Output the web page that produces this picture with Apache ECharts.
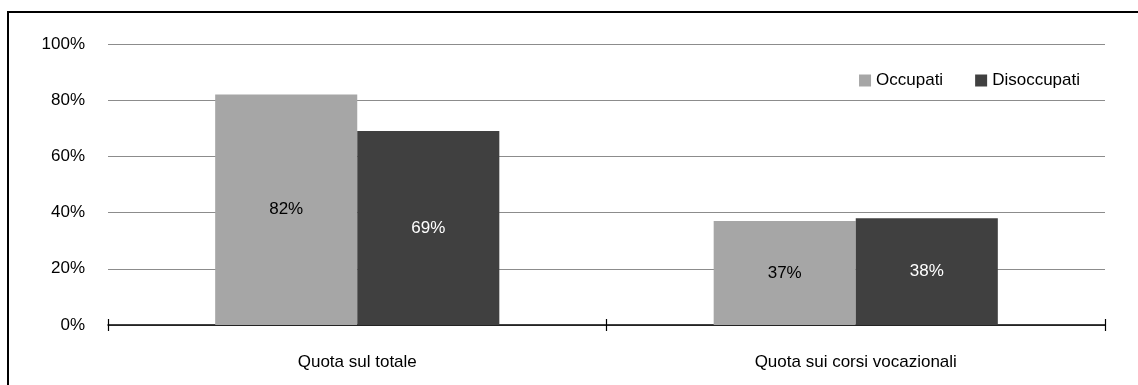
<!DOCTYPE html>
<html>
<head>
<meta charset="utf-8">
<script src="https://cdn.jsdelivr.net/npm/echarts@6/dist/echarts.min.js"></script>
<style>
  html, body { margin: 0; padding: 0; background: #fff; }
  #chart { width: 1138px; height: 385px; }
</style>
</head>
<body>
<div id="chart"></div>
<script>
// Categories and series values (percent)
const categories = ['Quota sul totale', 'Quota sui corsi vocazionali'];
const occupatiValues = [82, 37];
const disoccupatiValues = [69, 38];
const seriesNames = ['Occupati', 'Disoccupati'];
const yTicks = [0, 20, 40, 60, 80, 100];

const FONT = '"Liberation Sans", Arial, sans-serif';
const FS = 17;
const chart = echarts.init(document.getElementById('chart'), null, { renderer: 'canvas' });

chart.setOption({
  animation: false,
  backgroundColor: '#ffffff',
  textStyle: { fontFamily: FONT },
  grid: { left: 108, right: 33, top: 44, bottom: 60, containLabel: false },
  legend: {
    data: seriesNames,
    right: 53,
    top: 67,
    icon: 'rect',
    itemWidth: 12,
    itemHeight: 12,
    itemGap: 32,
    textStyle: { fontFamily: FONT, fontSize: FS, color: '#000' }
  },
  xAxis: [
    {
      type: 'category',
      data: categories,
      position: 'bottom',
      axisLine: { show: true, lineStyle: { color: '#000', width: 1.5 } },
      axisTick: { show: true, inside: false, length: 6, lineStyle: { color: '#000', width: 1.2 } },
      axisLabel: { fontFamily: FONT, fontSize: FS, color: '#000', margin: 29 },
      splitLine: { show: false }
    },
    {
      type: 'category',
      data: categories,
      position: 'bottom',
      axisLine: { show: false },
      axisTick: { show: true, inside: true, length: 6, lineStyle: { color: '#000', width: 1.2 } },
      axisLabel: { show: false },
      splitLine: { show: false }
    }
  ],
  yAxis: {
    type: 'value',
    min: yTicks[0],
    max: yTicks[yTicks.length - 1],
    interval: yTicks[1] - yTicks[0],
    axisLine: { show: false },
    axisTick: { show: false },
    axisLabel: { formatter: '{value}%', fontFamily: FONT, fontSize: FS, color: '#000', margin: 23 },
    splitLine: { show: true, lineStyle: { color: '#8c8c8c', width: 1.2 } }
  },
  series: [
    {
      name: seriesNames[0],
      type: 'bar',
      xAxisIndex: 0,
      data: occupatiValues,
      barGap: '0%',
      barCategoryGap: '43%',
      itemStyle: { color: '#a6a6a6' },
      label: { show: true, position: 'inside', formatter: '{c}%', fontFamily: FONT, fontSize: FS, color: '#000' }
    },
    {
      name: seriesNames[1],
      type: 'bar',
      xAxisIndex: 0,
      data: disoccupatiValues,
      barGap: '0%',
      barCategoryGap: '43%',
      itemStyle: { color: '#404040' },
      label: { show: true, position: 'inside', formatter: '{c}%', fontFamily: FONT, fontSize: FS, color: '#fff' }
    }
  ],
  graphic: [
    {
      type: 'polyline',
      shape: { points: [[8, 385], [8, 12], [1138, 12]] },
      style: { stroke: '#000', lineWidth: 2, fill: null },
      silent: true
    }
  ]
});
</script>
</body>
</html>
